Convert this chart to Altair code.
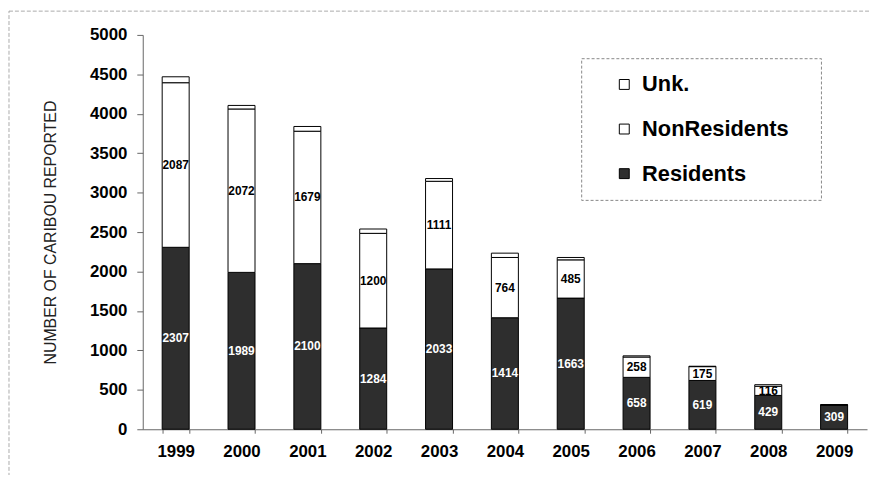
import altair as alt
import pandas as pd

years = ["1999", "2000", "2001", "2002", "2003", "2004", "2005", "2006", "2007", "2008", "2009"]
residents = [2307, 1989, 2100, 1284, 2033, 1414, 1663, 658, 619, 429, 309]
nonresidents = [2087, 2072, 1679, 1200, 1111, 764, 485, 258, 175, 116, 0]
unknown = [75, 45, 60, 55, 35, 55, 30, 15, 5, 20, 0]
series = ["Unk.", "NonResidents", "Residents"]
colors = ["white", "white", "#2e2e2e"]
y_ticks = list(range(0, 5001, 500))

FONT = "Liberation Sans"
W, H = 731, 398

rows = []
labels = []
for i, yr in enumerate(years):
    start = 0
    for name, vals, ordv in [("Residents", residents, 0), ("NonResidents", nonresidents, 1), ("Unk.", unknown, 2)]:
        v = vals[i]
        rows.append({"year": yr, "series": name, "value": v, "ord": ordv})
        if name != "Unk." and v > 0:
            labels.append({"year": yr, "series": name, "mid": start + v / 2, "label": str(v)})
        start += v
df = pd.DataFrame(rows)
lab = pd.DataFrame(labels)

yscale = alt.Scale(domain=[0, 5000], nice=False)
xscale = alt.Scale(domain=years, paddingInner=0.59, paddingOuter=0.295)

x_axis = alt.Axis(title=None, labelAngle=0, labelFont=FONT, labelFontSize=17,
                  labelFontWeight="bold", labelColor="black", tickBand="extent",
                  tickSize=4, labelPadding=11, domainColor="#666", tickColor="#666")
y_axis = alt.Axis(values=y_ticks, format="d", labelOverlap=False, grid=False,
                  title="NUMBER OF CARIBOU REPORTED",
                  labelFont=FONT, labelFontSize=17, labelFontWeight="bold",
                  labelColor="black", tickSize=6, labelPadding=10,
                  domainColor="#666", tickColor="#666",
                  titleFont=FONT, titleFontSize=16, titleFontWeight="normal",
                  titleColor="#222", titleX=-93, titleY=H / 2, titleAngle=-90,
                  titleAlign="center", titleBaseline="middle")

bars = alt.Chart(df).mark_bar(stroke="black", strokeWidth=1).encode(
    x=alt.X("year:O", sort=years, scale=xscale, axis=x_axis),
    y=alt.Y("value:Q", stack="zero", scale=yscale, axis=y_axis),
    color=alt.Color("series:N", scale=alt.Scale(domain=series, range=colors),
                    legend=alt.Legend(orient="none", legendX=475, legendY=39, title=None,
                                      symbolType="square", symbolSize=100,
                                      symbolStrokeColor="black", symbolStrokeWidth=1,
                                      symbolOpacity=1,
                                      labelFont=FONT, labelFontSize=22, labelFontWeight="bold",
                                      labelColor="black", rowPadding=23, labelOffset=7)),
    order=alt.Order("ord:Q", sort="ascending"),
)

res_text = alt.Chart(lab[lab.series == "Residents"]).mark_text(
    font=FONT, fontSize=12, fontWeight="bold", color="white", baseline="middle"
).encode(
    x=alt.X("year:O", sort=years, scale=xscale, axis=x_axis),
    y=alt.Y("mid:Q", scale=yscale, axis=y_axis),
    text="label:N",
)
non_text = alt.Chart(lab[lab.series == "NonResidents"]).mark_text(
    font=FONT, fontSize=12, fontWeight="bold", color="black", baseline="middle"
).encode(
    x=alt.X("year:O", sort=years, scale=xscale, axis=x_axis),
    y=alt.Y("mid:Q", scale=yscale, axis=y_axis),
    text="label:N",
)

one = pd.DataFrame({"a": [0]})
legend_box = alt.Chart(one).mark_rect(
    fill="white", stroke="#888", strokeWidth=1, strokeDash=[3, 2]
).encode(x=alt.value(443), x2=alt.value(685), y=alt.value(24), y2=alt.value(167))

frame = alt.Chart(one).mark_rect(
    fillOpacity=0, stroke="#aaa", strokeWidth=1, strokeDash=[4, 2]
).encode(x=alt.value(-135), x2=alt.value(740), y=alt.value(-24), y2=alt.value(500))

chart = alt.layer(frame, legend_box, bars, res_text, non_text).properties(
    width=W, height=H,
    autosize=alt.AutoSizeParams(type="none"),
    padding={"left": 136, "top": 25, "right": 3, "bottom": 44},
    background="white",
).configure_view(stroke=None)

chart.save("out.html", embed_options={"renderer": "svg", "actions": False})
